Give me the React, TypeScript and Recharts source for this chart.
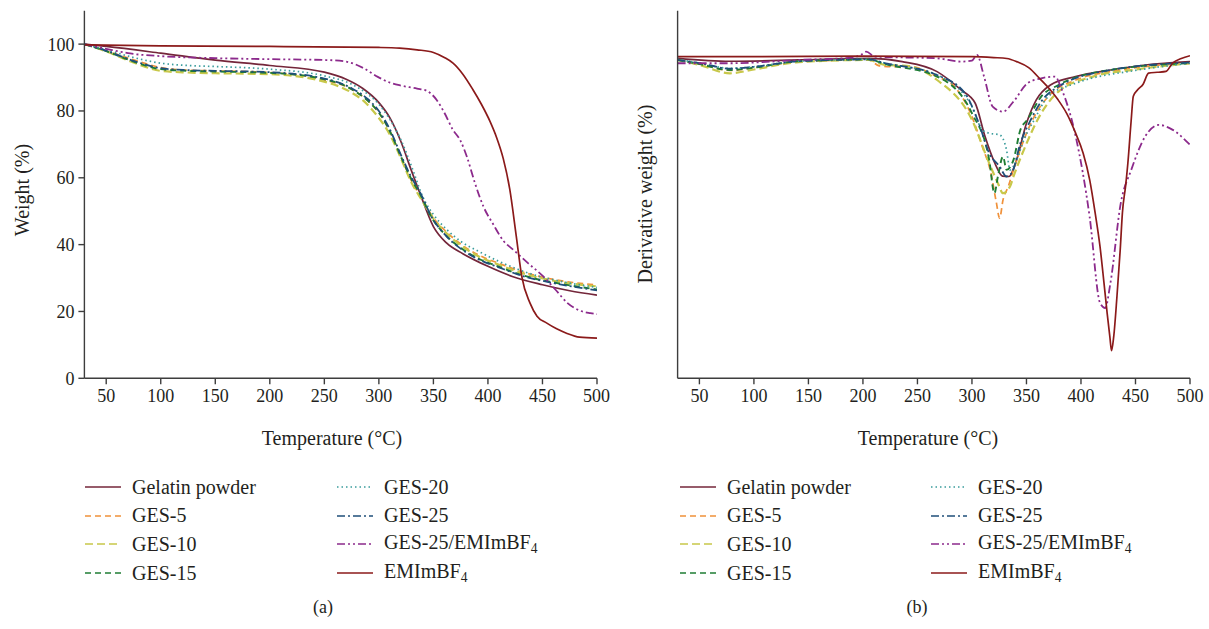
import React from 'react';
import { LineChart, Line, XAxis, YAxis } from 'recharts';

const FONT = '"Liberation Serif", "DejaVu Serif", serif';
const TEXT = '#231f20';
const AXIS = '#3d3d3d';
const FRAME = '#6a6a6a';

// ---------- categories / ticks ----------
const tempTicks = [50, 100, 150, 200, 250, 300, 350, 400, 450, 500];
const weightTicks = [0, 20, 40, 60, 80, 100];
const derivTicks = [-3, -2, -1, 0];
const seriesNames = ['Gelatin powder', 'GES-5', 'GES-10', 'GES-15', 'GES-20', 'GES-25', 'GES-25/EMImBF4', 'EMImBF4'];

// ---------- (a) TGA: [temperature °C, weight %] ----------
const tgaGelatin = [[30,100],[50,99.3],[100,97.3],[150,95.2],[200,93.6],[250,91.6],[270,89.5],[285,86.8],[300,82.5],[310,78],[320,71],[330,62],[337.6,55.4],[350,45.4],[362,40.5],[377,37.3],[400,33.5],[423,30.4],[450,28],[475,26.2],[500,24.9]];
const tgaGes5 = [[30,100],[50,98],[75,95.3],[100,93],[125,92.2],[150,92],[200,91.5],[250,89.3],[275,86.5],[290,83],[300,79.5],[310,74],[320,66.5],[330,59],[340,53.5],[350,48],[362,43.8],[375,40.2],[392,36.8],[410,34.4],[432,31.8],[460,29.6],[500,27.9]];
const tgaGes10 = [[30,100],[50,97.8],[75,94.5],[100,92],[125,91.5],[150,91.3],[200,91],[255,88.3],[275,85.5],[286,83],[299,78.3],[310,73],[320,66],[330,58.5],[340,53],[350,47.8],[362,43.4],[375,39.8],[392,36.4],[410,34],[432,31.4],[460,29.2],[500,27.5]];
const tgaGes15 = [[30,100],[50,97.9],[75,94.8],[100,92.5],[125,92],[150,91.8],[200,91.4],[250,89.5],[275,86.5],[290,83],[300,79.5],[310,74],[320,66.5],[330,59.5],[338,55],[348,48.3],[362,42.6],[375,39],[392,35.7],[410,33.4],[432,30.8],[460,28.7],[500,26.6]];
const tgaGes20 = [[30,100],[50,98.3],[75,96],[100,94.3],[125,93.6],[150,93.3],[200,92.5],[250,90.5],[275,88],[290,85],[300,82],[310,77.5],[320,71.5],[331,62.5],[340,54.5],[350,49],[362,44.6],[375,41],[392,37.9],[410,35],[440,31.2],[470,28.8],[500,27.2]];
const tgaGes25 = [[30,100],[50,98],[75,95],[100,92.8],[125,92.2],[150,92],[200,91.6],[250,89.7],[275,86.8],[290,83.5],[300,80],[310,74.5],[320,67],[330,60],[338,55.5],[348,48.5],[362,42.5],[375,38.8],[392,35.5],[410,33.2],[432,30.6],[460,28.5],[500,26.3]];
const tgaGes25Il = [[30,100],[50,98.6],[72,97.2],[100,96.4],[150,95.8],[200,95.5],[255,95.2],[271,94.7],[286,92.8],[299,90.2],[310,88.5],[320,87.6],[335,86.7],[344,86],[353,83.3],[360,79.5],[368,74.3],[374.5,71.3],[381,66],[388,58.5],[396,51.3],[405,46],[414,41.2],[423.5,38.4],[437,34.4],[451,30.4],[462,26.5],[473,22.5],[484,20.3],[494,19.5],[500,19.2]];
const tgaEmim = [[30,99.8],[100,99.5],[200,99.3],[300,99],[319,98.8],[335,98.3],[350,97.5],[360,96],[368,94.3],[377,91],[386,86.5],[394,82],[402,76.8],[408,72],[414,65.8],[420,56.6],[426,42.5],[431,30.5],[438.6,22.5],[445,18.6],[454,16.5],[463,14.8],[472,13.5],[484,12.3],[500,12]];

// ---------- (b) DTG: [temperature °C, derivative weight (arb.)] ----------
const dtgGelatin = [[30,-0.018],[78,-0.05],[141,-0.036],[205,-0.018],[236,-0.054],[268,-0.163],[290,-0.362],[303,-0.507],[312,-0.87],[321,-1.159],[328,-1.3],[334,-1.304],[340,-1.159],[350,-0.725],[359,-0.471],[372,-0.308],[395,-0.217],[427,-0.145],[459,-0.091],[500,-0.054]];
const dtgGes5 = [[30,-0.036],[50,-0.08],[78,-0.15],[100,-0.12],[141,-0.054],[205,-0.036],[215,-0.1],[225,-0.11],[240,-0.1],[268,-0.217],[284,-0.326],[300,-0.652],[309.5,-0.978],[317.4,-1.268],[322.2,-1.576],[325.4,-1.757],[328.5,-1.558],[333.3,-1.413],[338.1,-1.232],[347.6,-0.906],[357.1,-0.652],[369.8,-0.435],[395.2,-0.254],[427,-0.163],[458.8,-0.109],[500,-0.072]];
const dtgGes10 = [[30,-0.036],[50,-0.09],[78,-0.181],[100,-0.14],[141,-0.06],[205,-0.036],[220,-0.09],[240,-0.1],[268,-0.254],[300,-0.688],[315.8,-1.159],[323.8,-1.377],[328.5,-1.486],[334.9,-1.413],[338.1,-1.304],[347.6,-1.014],[363.5,-0.616],[379.4,-0.38],[411,-0.217],[450,-0.14],[500,-0.072]];
const dtgGes15 = [[30,-0.036],[50,-0.08],[78,-0.145],[100,-0.12],[141,-0.05],[205,-0.03],[220,-0.08],[268,-0.217],[300,-0.616],[315.8,-1.123],[320.6,-1.486],[323.8,-1.304],[328.5,-1.087],[331.7,-1.232],[338.1,-1.123],[344.4,-0.797],[350.8,-0.688],[363.5,-0.435],[379.4,-0.308],[427,-0.145],[500,-0.072]];
const dtgGes20 = [[30,-0.03],[50,-0.07],[78,-0.127],[100,-0.11],[141,-0.05],[205,-0.03],[220,-0.07],[268,-0.2],[300,-0.543],[309.5,-0.797],[315.8,-0.833],[325.4,-0.851],[331.7,-1.014],[334.9,-1.232],[339.7,-1.159],[347.6,-0.906],[357.1,-0.688],[369.8,-0.435],[395.2,-0.29],[450,-0.15],[500,-0.072]];
const dtgGes25 = [[30,-0.036],[50,-0.07],[78,-0.13],[100,-0.11],[141,-0.05],[205,-0.03],[220,-0.07],[268,-0.2],[293.6,-0.399],[306.3,-0.725],[315.8,-1.051],[325.4,-1.196],[331.7,-1.304],[336.5,-1.268],[344.4,-0.942],[353.9,-0.688],[363.5,-0.489],[379.4,-0.326],[427,-0.145],[500,-0.065]];
const dtgGes25Il = [[30,-0.072],[78,-0.072],[141,-0.036],[190,-0.01],[198,0.018],[203,0.054],[211,0],[268,-0.018],[290,-0.054],[300,-0.043],[304.7,0.018],[311.1,-0.217],[319,-0.543],[328.5,-0.598],[338.1,-0.489],[350.8,-0.29],[363.5,-0.236],[376.2,-0.217],[382.5,-0.362],[395.2,-0.87],[407.9,-1.739],[417.5,-2.681],[422.2,-2.736],[427,-2.464],[436.5,-1.594],[446.1,-1.232],[458.8,-0.87],[471.5,-0.743],[484.2,-0.797],[500,-0.96]];
const dtgEmim = [[30,0],[100,0],[200,0.005],[300,0],[320,-0.01],[332,-0.02],[341,-0.054],[352,-0.12],[363,-0.25],[371,-0.35],[379,-0.47],[387,-0.62],[395,-0.83],[402,-1.05],[408,-1.34],[413,-1.7],[417.5,-2.07],[421,-2.45],[424,-2.79],[426.5,-3.05],[428,-3.2],[430,-3.05],[433,-2.61],[436,-2.1],[438,-1.7],[441,-1.4],[443,-1.16],[446,-0.7],[448,-0.43],[452,-0.36],[457,-0.3],[462,-0.18],[470,-0.17],[478,-0.16],[484,-0.07],[492,-0.02],[500,0.01]];

// ---------- styles ----------
const styles = [
  { color: '#74263a', dash: undefined, width: 1.7 },
  { color: '#f0913a', dash: '6 4', width: 1.7 },
  { color: '#c8c84a', dash: '8 4', width: 2.2 },
  { color: '#1f7d34', dash: '6 4', width: 1.9 },
  { color: '#3a9c9c', dash: '1.5 3', width: 1.7 },
  { color: '#1f4f7a', dash: '8 3 2 3', width: 1.8 },
  { color: '#8c2a8c', dash: '8 3 2 3 2 3', width: 1.8 },
  { color: '#8b1a1a', dash: undefined, width: 1.7 },
];

const toRows = (arr: number[][]) => arr.map(([t, v]) => ({ t, v }));

const tgaSets = [tgaGelatin, tgaGes5, tgaGes10, tgaGes15, tgaGes20, tgaGes25, tgaGes25Il, tgaEmim];
const dtgSets = [dtgGelatin, dtgGes5, dtgGes10, dtgGes15, dtgGes20, dtgGes25, dtgGes25Il, dtgEmim];

const tickStyle = { fontFamily: FONT, fontSize: 18, fill: TEXT };

function Panel(props: {
  left: number; width: number; yAxisWidth: number; marginRight: number;
  sets: number[][][]; yDomain: number[]; yTicks: number[]; showYLabels: boolean;
  yLabel: string; yLabelX: number; yLabelY: number; xLabelX: number;
}) {
  const H = 460;
  const plotBottom = 378.3;
  const top = 10.7;
  return (
    <div style={{ position: 'absolute', left: props.left, top: 0, width: props.width, height: H }}>
      <LineChart width={props.width} height={H} margin={{ top, right: props.marginRight, bottom: 0, left: 0 }}>
        <XAxis
          dataKey="t" type="number" domain={[30, 500]} ticks={tempTicks} allowDataOverflow
          height={H - plotBottom} tickSize={6} tickMargin={5}
          stroke={AXIS} strokeWidth={1.4} tick={tickStyle}
          label={{ content: () => (
            <text x={props.xLabelX} y={438} textAnchor="middle" dominantBaseline="central"
              style={{ fontFamily: FONT, fontSize: 20, fill: TEXT }}>Temperature (°C)</text>
          ) }}
        />
        <XAxis xAxisId="top" orientation="top" type="number" domain={[30, 500]} height={0}
          tick={false} tickLine={false} stroke={FRAME} strokeWidth={1.2} />
        <YAxis
          type="number" domain={props.yDomain} ticks={props.yTicks} allowDataOverflow
          width={props.yAxisWidth} tickSize={6} tickMargin={4}
          stroke={AXIS} strokeWidth={1.4}
          tick={props.showYLabels ? tickStyle : false}
          label={{ content: () => (
            <text x={props.yLabelX} y={props.yLabelY} textAnchor="middle" dominantBaseline="central"
              transform={`rotate(-90 ${props.yLabelX} ${props.yLabelY})`}
              style={{ fontFamily: FONT, fontSize: 20, fill: TEXT }}>{props.yLabel}</text>
          ) }}
        />
        <YAxis yAxisId="right" orientation="right" type="number" domain={props.yDomain} width={0}
          tick={false} tickLine={false} stroke={FRAME} strokeWidth={1.2} />
        {props.sets.map((s, i) => (
          <Line key={seriesNames[i]} name={seriesNames[i]} data={toRows(s)} dataKey="v" type="monotone"
            stroke={styles[i].color} strokeWidth={styles[i].width} strokeDasharray={styles[i].dash}
            dot={false} activeDot={false} isAnimationActive={false} />
        ))}
      </LineChart>
    </div>
  );
}

function renderName(n: string) {
  if (n.endsWith('BF4')) return (<>{n.slice(0, -1)}<sub style={{ fontSize: '0.68em', verticalAlign: '-0.3em' }}>4</sub></>);
  return n;
}

function LegendBlock(props: { col1: number; col2: number }) {
  const rowTop = 473;
  const rowH = 28.7;
  return (
    <>
      {seriesNames.map((n, i) => {
        const col = i < 4 ? props.col1 : props.col2;
        const row = i % 4;
        const st = styles[i];
        return (
          <div key={n} style={{ position: 'absolute', left: col, top: rowTop + row * rowH, height: 28,
            display: 'flex', alignItems: 'center', fontFamily: FONT, fontSize: 20, color: TEXT, whiteSpace: 'nowrap' }}>
            <svg width={36} height={10} style={{ marginRight: 11 }}>
              <line x1={0} x2={36} y1={5} y2={5} stroke={st.color} strokeWidth={1.6} strokeDasharray={st.dash} />
            </svg>
            <span>{renderName(n)}</span>
          </div>
        );
      })}
    </>
  );
}

export default function App() {
  return (
    <div style={{ position: 'absolute', left: 0, top: 0, width: 1209, height: 629, background: '#fff', overflow: 'hidden' }}>
      <Panel left={0} width={610} yAxisWidth={84.4} marginRight={13} sets={tgaSets}
        yDomain={[0, 110]} yTicks={weightTicks} showYLabels yLabel="Weight (%)"
        yLabelX={22} yLabelY={190} xLabelX={332} />
      <Panel left={600} width={609} yAxisWidth={77.6} marginRight={19} sets={dtgSets}
        yDomain={[-3.5, 0.5]} yTicks={derivTicks} showYLabels={false} yLabel="Derivative weight (%)"
        yLabelX={45} yLabelY={194} xLabelX={328} />
      <LegendBlock col1={85} col2={337} />
      <LegendBlock col1={680} col2={931} />
      <div style={{ position: 'absolute', left: 0, width: 646, top: 597, textAlign: 'center', fontFamily: FONT, fontSize: 18, color: TEXT }}>(a)</div>
      <div style={{ position: 'absolute', left: 600, width: 634, top: 597, textAlign: 'center', fontFamily: FONT, fontSize: 18, color: TEXT }}>(b)</div>
    </div>
  );
}
